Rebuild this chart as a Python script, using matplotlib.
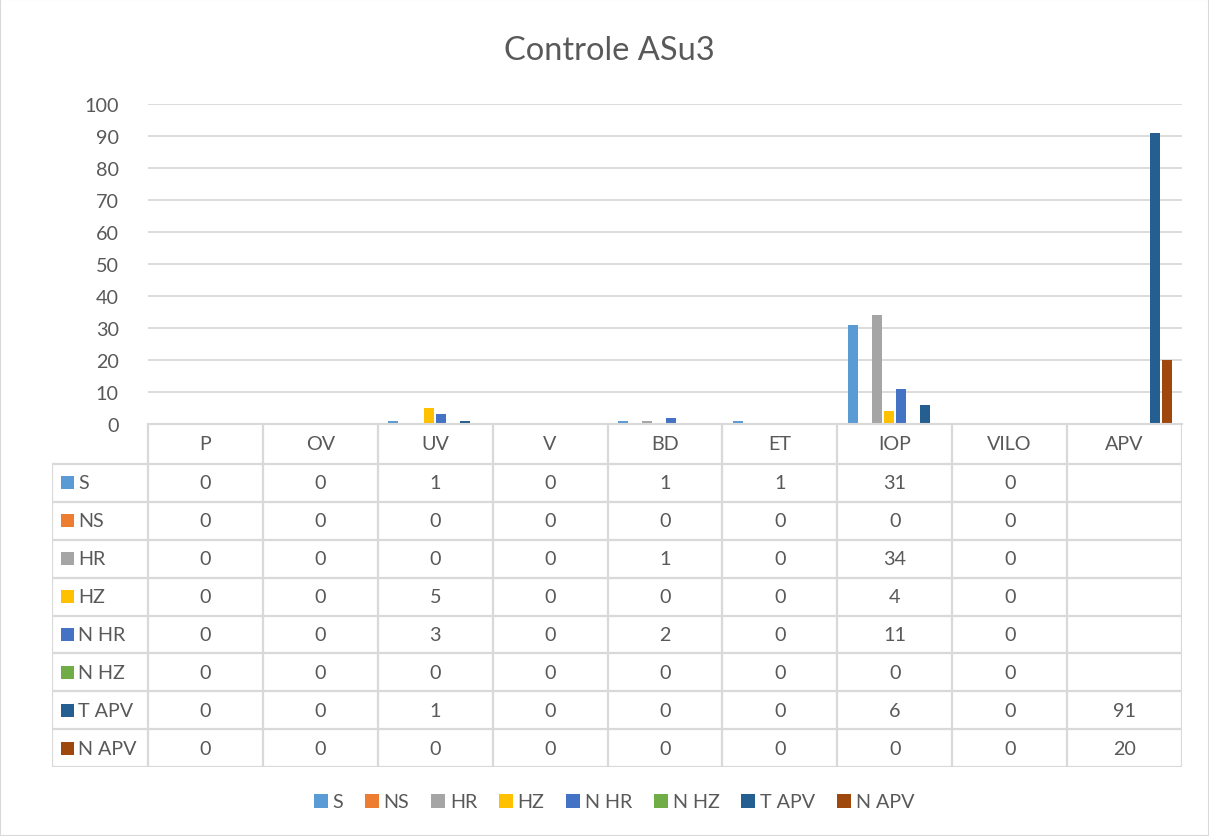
import numpy as np
import matplotlib
matplotlib.use('Agg')
import matplotlib.pyplot as plt
from matplotlib.patches import Rectangle, Patch

plt.rcParams['font.family'] = ['Lato', 'DejaVu Sans']

categories = ['P', 'OV', 'UV', 'V', 'BD', 'ET', 'IOP', 'VILO', 'APV']
series_names = ['S', 'NS', 'HR', 'HZ', 'N HR', 'N HZ', 'T APV', 'N APV']
series_colors = ['#5b9bd5', '#ed7d31', '#a5a5a5', '#ffc000', '#4472c4', '#70ad47', '#255e91', '#9e480e']

# None = empty cell in the data table
S = [0, 0, 1, 0, 1, 1, 31, 0, None]
NS = [0, 0, 0, 0, 0, 0, 0, 0, None]
HR = [0, 0, 0, 0, 1, 0, 34, 0, None]
HZ = [0, 0, 5, 0, 0, 0, 4, 0, None]
N_HR = [0, 0, 3, 0, 2, 0, 11, 0, None]
N_HZ = [0, 0, 0, 0, 0, 0, 0, 0, None]
T_APV = [0, 0, 1, 0, 0, 0, 6, 0, 91]
N_APV = [0, 0, 0, 0, 0, 0, 0, 0, 20]
all_series = [S, NS, HR, HZ, N_HR, N_HZ, T_APV, N_APV]

W, H = 1209, 837
txt = '#595959'
grid = '#d9d9d9'
fs = 14.2

fig = plt.figure(figsize=(W / 100, H / 100), dpi=100)
fig.patches.append(Rectangle((0, 0), 1, 1, transform=fig.transFigure,
                             fill=False, edgecolor=grid, linewidth=1.5))

fig.text(609 / W, 1 - 51 / H, 'Controle ASu3', ha='center', va='center',
         fontsize=23.5, color=txt)

# chart area
left, right, top, bottom = 148, 1182, 105, 425
ax = fig.add_axes([left / W, 1 - bottom / H, (right - left) / W, (bottom - top) / H])
ax.set_xlim(0, len(categories))
ax.set_ylim(0, 100)
ax.set_yticks(range(0, 101, 10))
ax.set_xticks([])
ax.tick_params(axis='y', length=0, labelsize=fs, labelcolor=txt, pad=21)
ax.yaxis.grid(True, color=grid, linewidth=1.3)
ax.set_axisbelow(True)
for sp in ['top', 'right', 'left']:
    ax.spines[sp].set_visible(False)
ax.spines['bottom'].set_color(grid)
ax.spines['bottom'].set_linewidth(1.5)

cat_px = (right - left) / len(categories)
slot = 12 / cat_px
bw = 10 / cat_px
xs = np.arange(len(categories)) + 0.5
for j, vals in enumerate(all_series):
    v = np.array([np.nan if x is None else x for x in vals], dtype=float)
    ax.bar(xs + (j - 3.5) * slot, v, width=bw, color=series_colors[j], linewidth=0)

# data table
tbl_left, tbl_bottom = 52, 768
tax = fig.add_axes([tbl_left / W, 1 - tbl_bottom / H, (right - tbl_left) / W, (tbl_bottom - bottom) / H])
lab_w = (left - tbl_left) / cat_px
row_h = (tbl_bottom - 465) / len(series_names)
hh = (465 - bottom) / row_h
tax.set_xlim(-lab_w, len(categories))
tax.set_ylim(len(series_names), -hh)
tax.axis('off')

lc = dict(color=grid, linewidth=1.6, solid_capstyle='projecting')
for i in range(len(series_names) + 1):
    tax.plot([-lab_w, len(categories)], [i, i], **lc)
for k in range(len(categories) + 1):
    tax.plot([k, k], [-hh, len(series_names)], **lc)
tax.plot([-lab_w, -lab_w], [0, len(series_names)], **lc)

for k, c in enumerate(categories):
    tax.text(k + 0.5, -hh / 2, c, ha='center', va='center', fontsize=fs, color=txt)

sq_w = 13 / cat_px
sq_h = 13 / row_h
for i, (name, vals) in enumerate(zip(series_names, all_series)):
    tax.add_patch(Rectangle((-lab_w + 9 / cat_px, i + 0.5 - sq_h / 2), sq_w, sq_h,
                            color=series_colors[i], linewidth=0))
    tax.text(-lab_w + 26 / cat_px, i + 0.5, name, ha='left', va='center',
             fontsize=fs, color=txt)
    for k, v in enumerate(vals):
        if v is not None:
            tax.text(k + 0.5, i + 0.5, str(v), ha='center', va='center',
                     fontsize=fs, color=txt)

# legend
handles = [Patch(color=c, linewidth=0) for c in series_colors]
fig.legend(handles, series_names, loc='center', bbox_to_anchor=(614 / W, 1 - 803 / H),
           ncol=8, frameon=False, fontsize=fs, handlelength=0.7, handleheight=0.7,
           handletextpad=0.25, columnspacing=1.1, labelcolor=txt)

fig.savefig('out.png', dpi=100)
